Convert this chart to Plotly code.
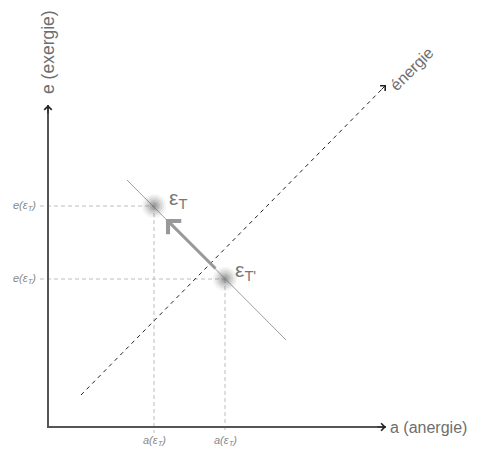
import plotly.graph_objects as go

# ---- data (diagram coordinates) ----
point_labels = ["ε<sub>T</sub>", "ε<sub>T'</sub>"]
a_vals = [106, 177]          # anergie of the two states
e_vals = [221, 148]          # exergie of the two states
iso_a = [79, 238]            # line of constant energy through the states
iso_e = [247, 87]
energy_a = [33, 338]         # energy diagonal
energy_e = [32, 342]
axis_a_max = 338
axis_e_max = 322
tick_e_labels = ["e(ε<sub>T</sub>)", "e(ε<sub>T</sub>)"]
tick_a_labels = ["a(ε<sub>T</sub>)", "a(ε<sub>T</sub>)"]

fig = go.Figure()

# dashed guide lines
for a, e in zip(a_vals, e_vals):
    fig.add_trace(go.Scatter(x=[-8, a], y=[e, e], mode="lines",
                             line=dict(color="#bdbdbd", width=1, dash="4px,3px"),
                             hoverinfo="skip"))
    fig.add_trace(go.Scatter(x=[a, a], y=[e, -6], mode="lines",
                             line=dict(color="#bdbdbd", width=1, dash="4px,3px"),
                             hoverinfo="skip"))

# iso line
fig.add_trace(go.Scatter(x=iso_a, y=iso_e, mode="lines",
                         line=dict(color="#a0a0a0", width=1), hoverinfo="skip"))

# energy diagonal
fig.add_trace(go.Scatter(x=energy_a, y=energy_e, mode="lines",
                         line=dict(color="#222222", width=1, dash="4px,4px"),
                         hoverinfo="skip"))

# axes
fig.add_trace(go.Scatter(x=[0, 0, axis_a_max], y=[axis_e_max, 0, 0], mode="lines",
                         line=dict(color="#555555", width=2), hoverinfo="skip"))

# glowing points
for size, op in [(24, 0.08), (20, 0.10), (16, 0.14), (12, 0.18), (8, 0.24), (4, 0.3)]:
    fig.add_trace(go.Scatter(x=a_vals, y=e_vals, mode="markers",
                             marker=dict(size=size, color="rgba(110,110,110,%s)" % op, line=dict(width=0)),
                             hoverinfo="skip"))

ann = []
# axis arrowheads
ann.append(dict(x=axis_a_max, y=0, ax=axis_a_max - 10, ay=0, xref="x", yref="y",
                axref="x", ayref="y", showarrow=True, arrowhead=4, arrowsize=1.2,
                arrowwidth=1.2, arrowcolor="#222222", text=""))
ann.append(dict(x=0, y=axis_e_max, ax=0, ay=axis_e_max - 10, xref="x", yref="y",
                axref="x", ayref="y", showarrow=True, arrowhead=4, arrowsize=1.2,
                arrowwidth=1.2, arrowcolor="#222222", text=""))
# energy arrowhead
ann.append(dict(x=energy_a[1], y=energy_e[1], ax=energy_a[1] - 6, ay=energy_e[1] - 6,
                xref="x", yref="y", axref="x", ayref="y", showarrow=True, arrowhead=4,
                arrowsize=1.4, arrowwidth=1, arrowcolor="#222222", text=""))
# transformation arrow T' -> T
ann.append(dict(x=118, y=208, ax=169, ay=157, xref="x", yref="y", axref="x", ayref="y",
                showarrow=True, arrowhead=4, arrowsize=1.2, arrowwidth=3,
                arrowcolor="#999999", text=""))

# text labels
ann.append(dict(x=axis_a_max + 2, y=0, xref="x", yref="y", text="a (anergie)",
                showarrow=False, xanchor="left", yanchor="middle",
                font=dict(family="Liberation Sans, Arial", size=16, color="#6e6e6e")))
ann.append(dict(x=0, y=375, xref="x", yref="y", text="e (exergie)", textangle=-90,
                showarrow=False, xanchor="center", yanchor="middle",
                font=dict(family="Liberation Sans, Arial", size=17.5, color="#6e6e6e")))
ann.append(dict(x=363, y=358, xref="x", yref="y", text="énergie", textangle=-45,
                showarrow=False, xanchor="center", yanchor="middle",
                font=dict(family="Liberation Sans, Arial", size=16, color="#6e6e6e")))

for lab, e in zip(tick_e_labels, e_vals):
    ann.append(dict(x=-10, y=e, xref="x", yref="y", text="<i>%s</i>" % lab,
                    showarrow=False, xanchor="right", yanchor="middle",
                    font=dict(family="Liberation Sans, Arial", size=11, color="#888888")))
for lab, a in zip(tick_a_labels, a_vals):
    ann.append(dict(x=a, y=-14, xref="x", yref="y", text="<i>%s</i>" % lab,
                    showarrow=False, xanchor="center", yanchor="middle",
                    font=dict(family="Liberation Sans, Arial", size=11, color="#888888")))

offsets = [(13, 7), (8, 8)]
for lab, a, e, (dx, dy) in zip(point_labels, a_vals, e_vals, offsets):
    ann.append(dict(x=a + dx, y=e + dy, xref="x", yref="y", text=lab,
                    showarrow=False, xanchor="left", yanchor="middle",
                    font=dict(family="Liberation Sans, Arial", size=21, color="#777777")))

# the page body has an 8px margin, so the figure is 8px smaller and ranges are shifted
fig.update_layout(
    width=471, height=444,
    margin=dict(l=0, r=0, t=0, b=0),
    paper_bgcolor="white", plot_bgcolor="white",
    showlegend=False,
    xaxis=dict(range=[-40, 431], visible=False, fixedrange=True),
    yaxis=dict(range=[-25, 419], visible=False, fixedrange=True),
    annotations=ann,
)

fig.write_html("out.html")
